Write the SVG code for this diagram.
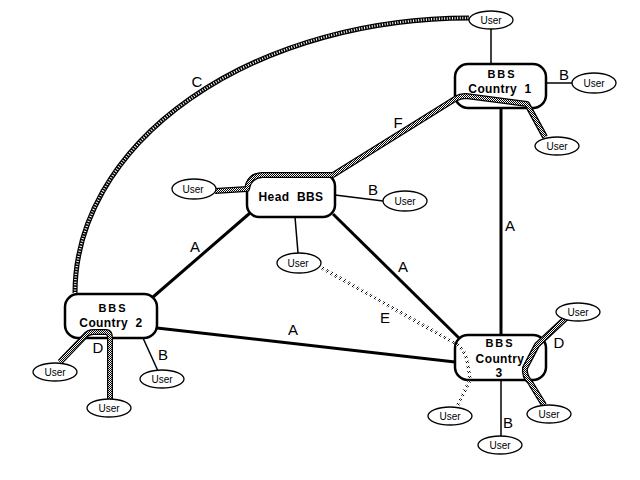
<svg xmlns="http://www.w3.org/2000/svg" width="640" height="480" viewBox="0 0 640 480" xml:space="preserve">
<defs>
<pattern id="checker" width="2" height="2" patternUnits="userSpaceOnUse">
<rect width="2" height="2" fill="#fff"/>
<rect width="1" height="1" fill="#000"/>
<rect x="1" y="1" width="1" height="1" fill="#000"/>
</pattern>
</defs>
<style>
.bbs{fill:#fff;stroke:#000;stroke-width:2.5}
.usr{fill:#fff;stroke:#000;stroke-width:1.3}
.ut{font-family:"Liberation Sans",Arial,sans-serif;font-size:10px;text-anchor:middle;fill:#000}
.bt{font-family:"Liberation Sans",Arial,sans-serif;font-size:12px;font-weight:bold;text-anchor:middle;fill:#000;letter-spacing:0.4px;white-space:pre}
.bs{font-family:"Liberation Sans",Arial,sans-serif;font-size:11px;font-weight:bold;text-anchor:middle;fill:#000;letter-spacing:2px}
.lbl{font-family:"Liberation Sans",Arial,sans-serif;font-size:15px;text-anchor:middle;fill:#000}
.thick{stroke:#000;stroke-width:3;fill:none}
.thin{stroke:#000;stroke-width:1.5;fill:none}
.hatch-o{stroke:#000;stroke-width:6;fill:none;stroke-linejoin:round}
.hatch-i{stroke:url(#checker);stroke-width:3.5;fill:none;stroke-linejoin:round}
.rope-o{stroke:#000;stroke-width:5;fill:none}
.rope-i{stroke:#fff;stroke-width:2.5;fill:none;stroke-dasharray:1 1.6}
.dots{stroke:url(#checker);stroke-width:3.5;fill:none;stroke-dasharray:2 3}
</style>
<g id="connectors">
<path class="rope-o" d="M75,293 A394,275 0 0 1 469,18"/>
<path class="rope-i" d="M75,293 A394,275 0 0 1 469,18"/>
<line class="thick" x1="501" y1="108" x2="501" y2="335"/>
<line class="thick" x1="250" y1="213" x2="153" y2="297"/>
<line class="thick" x1="333" y1="214" x2="460" y2="339"/>
<line class="thick" x1="157" y1="328" x2="455" y2="362"/>
<line class="thin" x1="491" y1="29" x2="491" y2="64"/>
<line class="thin" x1="546" y1="83" x2="572" y2="83"/>
<line class="thin" x1="335" y1="195" x2="383" y2="201"/>
<line class="thin" x1="295" y1="217" x2="298" y2="253"/>
<line class="thin" x1="143" y1="338" x2="158" y2="371"/>
<line class="thin" x1="501" y1="380" x2="501" y2="436"/>
</g>
<g id="country1"><rect class="bbs" x="455" y="64" width="91" height="44" rx="13"/><text class="bs" x="502" y="78">BBS</text><text class="bt" x="500" y="93">Country  1</text></g>
<g id="headbbs"><rect class="bbs" x="247" y="174" width="88" height="43" rx="12"/><text class="bt" x="291" y="201">Head  BBS</text></g>
<g id="country2"><rect class="bbs" x="65" y="294" width="92" height="44" rx="13"/><text class="bs" x="113" y="312">BBS</text><text class="bt" x="111" y="327">Country  2</text></g>
<g id="country3"><rect class="bbs" x="455" y="335" width="91" height="45" rx="13"/><text class="bs" x="500" y="347">BBS</text><text class="bt" x="500" y="363">Country</text><text class="bt" x="499" y="377">3</text></g>
<g id="hatched">
<path class="hatch-o" d="M215,191 L247,189 Q249,176 262,175 L333,175 L455,99 Q460,96 466,96 L527,104 L545,137"/>
<path class="hatch-i" d="M215,191 L247,189 Q249,176 262,175 L333,175 L455,99 Q460,96 466,96 L527,104 L545,137"/>
<path class="hatch-o" d="M60,362 L85,336 Q88,332 94,332 L106,332 Q110,332 110,338 L110,400"/>
<path class="hatch-i" d="M60,362 L85,336 Q88,332 94,332 L106,332 Q110,332 110,338 L110,400"/>
<path class="hatch-o" d="M566,318 L537,345 L525,368 Q524,376 530,382 L544,405"/>
<path class="hatch-i" d="M566,318 L537,345 L525,368 Q524,376 530,382 L544,405"/>
<path class="dots" d="M322,268 L458,345 Q466,352 468,365 L470,380 L457,407"/>
</g>
<g id="user-c1-top"><ellipse class="usr" cx="491" cy="20" rx="22" ry="9"/><text class="ut" x="491" y="24">User</text></g>
<g id="user-c1-b"><ellipse class="usr" cx="594" cy="83" rx="22" ry="10"/><text class="ut" x="594" y="87">User</text></g>
<g id="user-c1-f"><ellipse class="usr" cx="557" cy="146" rx="22" ry="9"/><text class="ut" x="557" y="150">User</text></g>
<g id="user-h-left"><ellipse class="usr" cx="194" cy="189" rx="22" ry="10"/><text class="ut" x="193" y="193">User</text></g>
<g id="user-h-b"><ellipse class="usr" cx="405" cy="201" rx="22" ry="10"/><text class="ut" x="405" y="205">User</text></g>
<g id="user-h-bottom"><ellipse class="usr" cx="299" cy="263" rx="22" ry="10"/><text class="ut" x="298" y="267">User</text></g>
<g id="user-c2-left"><ellipse class="usr" cx="55" cy="372" rx="22" ry="9"/><text class="ut" x="55" y="376">User</text></g>
<g id="user-c2-b"><ellipse class="usr" cx="162" cy="379" rx="22" ry="9"/><text class="ut" x="162" y="383">User</text></g>
<g id="user-c2-bottom"><ellipse class="usr" cx="109" cy="408" rx="22" ry="9"/><text class="ut" x="109" y="412">User</text></g>
<g id="user-c3-tr"><ellipse class="usr" cx="578" cy="312" rx="22" ry="9"/><text class="ut" x="578" y="316">User</text></g>
<g id="user-c3-br"><ellipse class="usr" cx="549" cy="414" rx="22" ry="9"/><text class="ut" x="549" y="418">User</text></g>
<g id="user-c3-b"><ellipse class="usr" cx="500" cy="445" rx="22" ry="9"/><text class="ut" x="500" y="449">User</text></g>
<g id="user-c3-bl"><ellipse class="usr" cx="450" cy="416" rx="22" ry="9"/><text class="ut" x="450" y="420">User</text></g>
<g id="labels">
<text class="lbl" x="197" y="87">C</text>
<text class="lbl" x="398" y="128">F</text>
<text class="lbl" x="373" y="195">B</text>
<text class="lbl" x="564" y="80">B</text>
<text class="lbl" x="195" y="252">A</text>
<text class="lbl" x="403" y="272">A</text>
<text class="lbl" x="510" y="231">A</text>
<text class="lbl" x="293" y="335">A</text>
<text class="lbl" x="385" y="323">E</text>
<text class="lbl" x="98" y="353">D</text>
<text class="lbl" x="163" y="360">B</text>
<text class="lbl" x="559" y="348">D</text>
<text class="lbl" x="508" y="428">B</text>
</g>
</svg>
